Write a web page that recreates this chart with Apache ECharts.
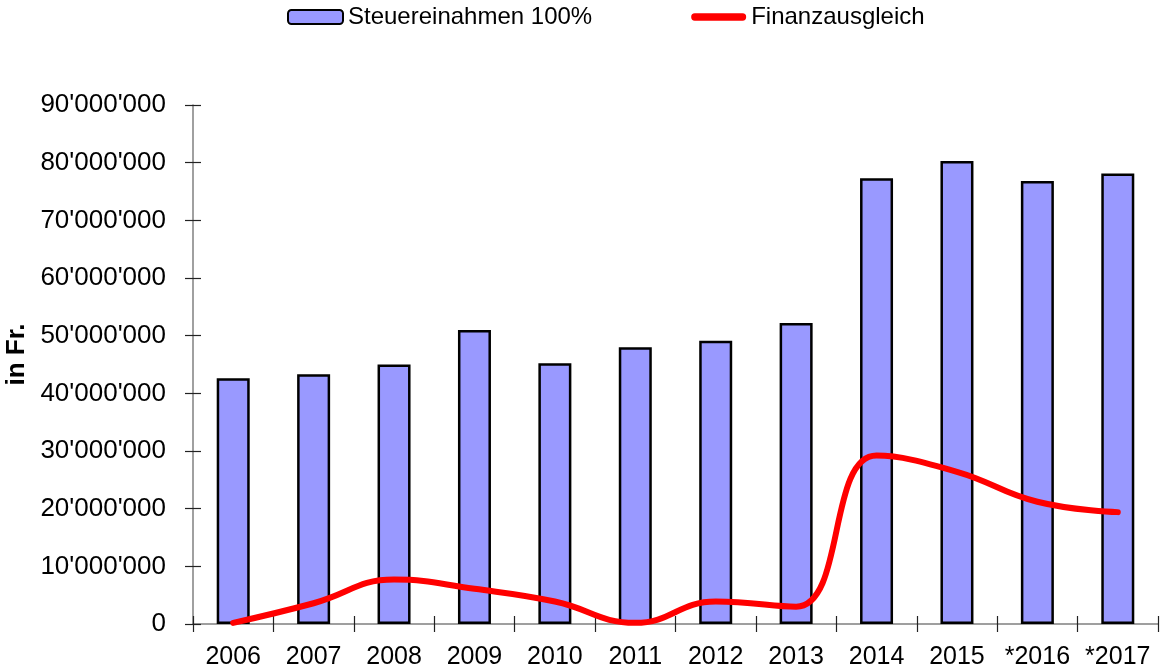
<!DOCTYPE html>
<html>
<head>
<meta charset="utf-8">
<title>Steuereinahmen / Finanzausgleich</title>
<script src="https://cdn.jsdelivr.net/npm/echarts@6/dist/echarts.min.js"></script>
<style>
  html, body { margin: 0; padding: 0; background: #fff; }
  #chart { width: 1161px; height: 671px; }
</style>
</head>
<body>
<div id="chart"></div>
<script>
// Daten (in Fr.)
var years = ["2006", "2007", "2008", "2009", "2010", "2011", "2012", "2013", "2014", "2015", "*2016", "*2017"]
var steuereinnahmen = [42600000, 43300000, 45000000, 51000000, 45200000, 48000000, 49100000, 52200000, 77300000, 80300000, 76800000, 78100000]
var finanzausgleich = [200000, 3600000, 7700000, 6100000, 3900000, 200000, 3900000, 3000000, 29200000, 26400000, 21200000, 19400000]
var yMin = 0
var yMax = 90000000
var yStep = 10000000

var font = "'Liberation Sans', Arial, sans-serif"

// 90000000 -> 90'000'000
function fmt(v) {
  return String(v).replace(/\B(?=(\d{3})+(?!\d))/g, "'")
}

var chartDom = echarts.init(document.getElementById("chart"))

var tickStyle = { color: "#222", width: 1.2 }

var option = {
  backgroundColor: "#fff",
  animation: false,
  textStyle: { fontFamily: font },
  legend: {
    top: 5,
    left: 287,
    padding: 0,
    itemWidth: 55,
    itemHeight: 14,
    itemGap: 99,
    textStyle: { fontSize: 24, color: "#000", fontFamily: font },
    data: [
      { name: "Steuereinahmen 100%" },
      // dicke rote Linie mit runden Enden als Legendensymbol
      { name: "Finanzausgleich", icon: "path://M4,0 H56 A4,4 0 0 1 56,8 H4 A4,4 0 0 1 4,0 Z" }
    ]
  },
  grid: {
    left: 193,
    right: 3,
    top: 105,
    bottom: 47,
    containLabel: false,
    outerBoundsMode: "none"
  },
  xAxis: [
    {
      type: "category",
      data: years,
      boundaryGap: true,
      axisLine: { lineStyle: { color: "#808080", width: 1.5 } },
      axisTick: { show: true, length: 8, lineStyle: tickStyle },
      axisLabel: { fontSize: 25, color: "#000", margin: 21, fontFamily: font, interval: 0 }
    },
    {
      // zweite Achse nur fuer die Ticks nach innen (Kreuz-Ticks wie im Original)
      type: "category",
      data: years,
      position: "bottom",
      gridIndex: 0,
      boundaryGap: true,
      axisLine: { show: false },
      axisTick: { show: true, inside: true, length: 8, lineStyle: tickStyle },
      axisLabel: { show: false }
    }
  ],
  yAxis: [
    {
      type: "value",
      min: yMin,
      max: yMax,
      interval: yStep,
      name: "in Fr.",
      nameLocation: "middle",
      nameGap: 162,
      nameRotate: 90,
      nameTextStyle: { fontSize: 26, fontWeight: "bold", color: "#000", fontFamily: font, padding: [0, 0, 0, 20] },
      axisLine: { show: true, lineStyle: { color: "#808080", width: 1.5 } },
      axisTick: { show: true, length: 8, lineStyle: tickStyle },
      axisLabel: { fontSize: 26, color: "#000", margin: 27, fontFamily: font, formatter: fmt },
      splitLine: { show: false }
    },
    {
      type: "value",
      min: yMin,
      max: yMax,
      interval: yStep,
      position: "left",
      axisLine: { show: false },
      axisTick: { show: true, inside: true, length: 8, lineStyle: tickStyle },
      axisLabel: { show: false },
      splitLine: { show: false }
    }
  ],
  series: [
    {
      name: "Steuereinahmen 100%",
      type: "bar",
      barWidth: 33,
      itemStyle: {
        color: "#9999FF",
        borderColor: "#000",
        borderWidth: 2.5
      },
      data: steuereinnahmen
    },
    {
      name: "Finanzausgleich",
      type: "line",
      smooth: 0.45,
      symbol: "none",
      z: 5,
      lineStyle: { color: "#FF0000", width: 6, cap: "round", join: "round" },
      itemStyle: { color: "#FF0000" },
      data: finanzausgleich
    }
  ]
}

chartDom.setOption(option)
window.addEventListener("resize", function () {
  chartDom.resize()
})
</script>
</body>
</html>
